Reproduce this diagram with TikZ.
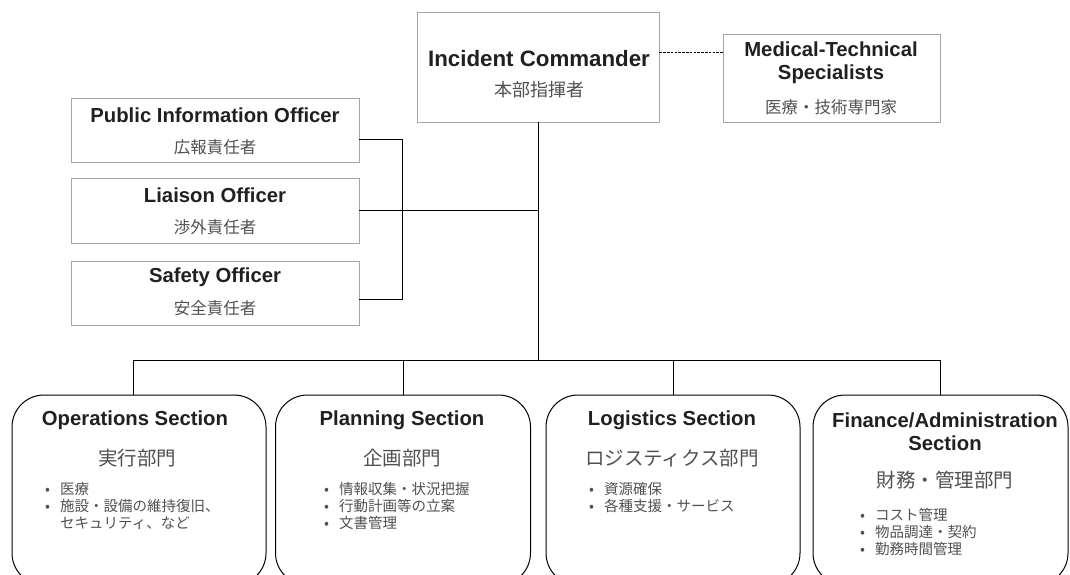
\documentclass[tikz,border=0pt]{standalone}
\usepackage{fontspec}
\setmainfont{Liberation Sans}
\newfontfamily\jpf{Noto Sans CJK JP}
\definecolor{tc}{HTML}{231F20}
\definecolor{jc}{HTML}{505050}
\definecolor{boxgray}{HTML}{A6A6A6}
\newcommand{\bul}{\makebox[15pt][l]{•}}
\begin{document}
\begin{tikzpicture}[x=1pt,y=-1pt,
  topbox/.style={draw=boxgray, line width=0.9pt, inner sep=0pt},
  secbox/.style={draw=black, line width=1pt, rounded corners=32pt, inner sep=0pt, minimum height=190pt},
  ttl/.style={font=\bfseries\fontsize{20.3}{23}\selectfont, text=tc, align=center, inner sep=0pt},
  bigttl/.style={font=\bfseries\fontsize{22.3}{25}\selectfont, text=tc, align=center, inner sep=0pt},
  jp/.style={font=\jpf\fontsize{16.5}{20}\selectfont, text=jc, inner sep=0pt},
  secjp/.style={font=\jpf\fontsize{19.5}{23}\selectfont, text=jc, inner sep=0pt},
  item/.style={font=\jpf\fontsize{14.5}{17}\selectfont, text=jc, anchor=west, inner sep=0pt},
  conn/.style={line width=1pt, black}]
\useasboundingbox (0,0) rectangle (1070,574);
\clip (0,0) rectangle (1070,574);

% top boxes
\node[topbox, minimum width=242pt, minimum height=110pt] (ic) at (538,67) {};
\node[bigttl] (ict) at (539,59) {Incident Commander};
\node[jp, font=\jpf\fontsize{18}{20}\selectfont] (icj) at (539,90) {本部指揮者};

\node[topbox, minimum width=217pt, minimum height=88pt] (med) at (831.5,78) {};
\node[ttl] (medt) at (831,62.5) {Medical-Technical\\Specialists};
\node[jp] (medj) at (831,107) {医療・技術専門家};

\node[topbox, minimum width=288pt, minimum height=64pt] (pio) at (215,130) {};
\node[ttl] (piot) at (215,115) {Public Information Officer};
\node[jp] (pioj) at (215,147) {広報責任者};

\node[topbox, minimum width=288pt, minimum height=65pt] (lia) at (215,210.5) {};
\node[ttl] (liat) at (215,195) {Liaison Officer};
\node[jp] (liaj) at (215,227) {渉外責任者};

\node[topbox, minimum width=288pt, minimum height=64pt] (saf) at (215,293) {};
\node[ttl] (saft) at (215,277) {Safety Officer};
\node[jp] (safj) at (215,308) {安全責任者};

% section boxes
\node[secbox, minimum width=254pt] (ops) at (139,490) {};
\node[secbox, minimum width=255pt] (pla) at (403,490) {};
\node[secbox, minimum width=254pt] (log) at (673,490) {};
\node[secbox, minimum width=255pt] (fin) at (940.5,490) {};

\node[ttl] (opst) at (135,420) {Operations Section};
\node[secjp] (opsj) at (137,458) {実行部門};
\node[item] (ops1) at (45,489) {\bul 医療};
\node[item] (ops2) at (45,506) {\bul 施設・設備の維持復旧、};
\node[item] (ops3) at (45,523) {\hphantom{\bul}セキュリティ、など};

\node[ttl] (plat) at (402,420) {Planning Section};
\node[secjp] (plaj) at (402,458) {企画部門};
\node[item] (pla1) at (324,489) {\bul 情報収集・状況把握};
\node[item] (pla2) at (324,506) {\bul 行動計画等の立案};
\node[item] (pla3) at (324,523) {\bul 文書管理};

\node[ttl] (logt) at (672,420) {Logistics Section};
\node[secjp] (logj) at (672,458) {ロジスティクス部門};
\node[item] (log1) at (589,489) {\bul 資源確保};
\node[item] (log2) at (589,506) {\bul 各種支援・サービス};

\node[ttl] (fint) at (945,431.5) {Finance/Administration\\Section};
\node[secjp] (finj) at (945,480) {財務・管理部門};
\node[item] (fin1) at (860,515) {\bul コスト管理};
\node[item] (fin2) at (860,532) {\bul 物品調達・契約};
\node[item] (fin3) at (860,549) {\bul 勤務時間管理};

% connectors
\coordinate (jx) at (402,0);
\coordinate (busL) at (133,360);
\coordinate (busR) at (940.5,360);
\draw[conn, dash pattern=on 2.5pt off 1.3pt, line width=0.8pt] ([yshift=26pt]med.west -| ic.east) -- ([yshift=26pt]med.west);
\draw[conn] ([yshift=-9pt]pio.east) -| ([yshift=-6pt]saf.east -| jx) -- ([yshift=-6pt]saf.east);
\draw[conn] (lia.east) -- (lia.east -| ic.south);
\draw[conn] (ic.south) -- (ic.south |- busL);
\draw[conn] (busL) -- (busR);
\draw[conn] (busL) -- (busL |- ops.north);
\draw[conn] (pla.north |- busL) -- (pla.north);
\draw[conn] (log.north |- busL) -- (log.north);
\draw[conn] (fin.north |- busL) -- (fin.north);
\end{tikzpicture}
\end{document}
